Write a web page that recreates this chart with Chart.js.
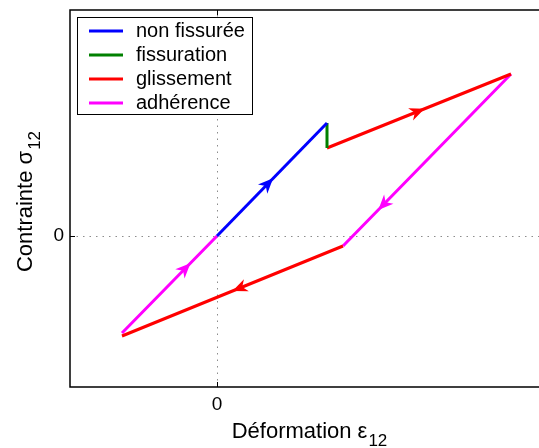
<!DOCTYPE html>
<html>
<head>
<meta charset="utf-8">
<script src="https://cdn.jsdelivr.net/npm/chart.js@4/dist/chart.umd.min.js"></script>
<style>
    body { margin: 0; background: #ffffff; overflow: hidden; }
    #wrap { width: 539px; height: 448px; }
</style>
</head>
<body>
<div id="wrap"><canvas id="cycleChart"></canvas></div>
<script>
// Cycle contrainte / deformation (unites arbitraires)
const seriesNames = ["non fissurée", "fissuration", "glissement", "adhérence"];
const seriesColors = ["#0000ff", "#008000", "#ff0000", "#ff00ff"];

const blueX = [0, 1.10];
const blueY = [0, 1.13];
const greenX = [1.10, 1.10];
const greenY = [1.13, 0.88];
const redX = [1.10, 2.94, null, 1.26, -0.95];
const redY = [0.88, 1.62, null, -0.10, -1.00];
const magentaX = [2.94, 1.26, null, -0.95, 0];
const magentaY = [1.62, -0.10, null, -0.97, 0];

const xTicks = [0];
const yTicks = [0];
const xRange = [-1.47, 3.22];
const yRange = [-1.51, 2.26];

// fleches : [serie, point de depart, position le long du segment]
const arrows = [[0, 0, 0.51], [2, 0, 0.53], [3, 0, 0.79], [2, 3, 0.50], [3, 3, 0.72]];

function toPoints(xs, ys) {
    return xs.map(function (x, i) {
        return { x: x, y: ys[i] };
    });
}

const allX = [blueX, greenX, redX, magentaX];
const allY = [blueY, greenY, redY, magentaY];

const datasets = seriesNames.map(function (name, i) {
    return {
        label: name,
        data: toPoints(allX[i], allY[i]),
        borderColor: seriesColors[i],
        backgroundColor: seriesColors[i],
        borderWidth: 3,
        pointRadius: 0,
        spanGaps: false,
        order: i === 0 ? 0 : 1
    };
});

const FONT = "'Liberation Sans', Arial, sans-serif";

const decorPlugin = {
    id: 'decor',
    beforeDatasetsDraw: function (chart) {
        const ctx = chart.ctx;
        const a = chart.chartArea;
        const xs = chart.scales.x;
        const ys = chart.scales.y;
        ctx.save();
        // grille pointillee
        ctx.strokeStyle = '#8c8c8c';
        ctx.lineWidth = 1;
        ctx.setLineDash([1.5, 5]);
        xTicks.forEach(function (v) {
            const px = Math.round(xs.getPixelForValue(v)) + 0.5;
            ctx.beginPath();
            ctx.moveTo(px, a.bottom);
            ctx.lineTo(px, a.top);
            ctx.stroke();
        });
        yTicks.forEach(function (v) {
            const py = Math.round(ys.getPixelForValue(v)) + 0.5;
            ctx.beginPath();
            ctx.moveTo(a.left, py);
            ctx.lineTo(a.right, py);
            ctx.stroke();
        });
        ctx.restore();
    },
    afterDatasetsDraw: function (chart) {
        const ctx = chart.ctx;
        const a = chart.chartArea;
        const xs = chart.scales.x;
        const ys = chart.scales.y;
        ctx.save();

        // fleches
        arrows.forEach(function (ar) {
            const xsData = allX[ar[0]];
            const ysData = allY[ar[0]];
            const x1 = xs.getPixelForValue(xsData[ar[1]]);
            const y1 = ys.getPixelForValue(ysData[ar[1]]);
            const x2 = xs.getPixelForValue(xsData[ar[1] + 1]);
            const y2 = ys.getPixelForValue(ysData[ar[1] + 1]);
            const len = Math.hypot(x2 - x1, y2 - y1);
            const dx = (x2 - x1) / len;
            const dy = (y2 - y1) / len;
            const tx = x1 + (x2 - x1) * ar[2];
            const ty = y1 + (y2 - y1) * ar[2];
            const L = 15, W = 6.5;
            ctx.fillStyle = seriesColors[ar[0]];
            ctx.beginPath();
            ctx.moveTo(tx, ty);
            ctx.lineTo(tx - L * dx - W * dy, ty - L * dy + W * dx);
            ctx.lineTo(tx - 0.7 * L * dx, ty - 0.7 * L * dy);
            ctx.lineTo(tx - L * dx + W * dy, ty - L * dy - W * dx);
            ctx.closePath();
            ctx.fill();
        });

        // cadre
        ctx.strokeStyle = '#000000';
        ctx.lineWidth = 1.5;
        ctx.setLineDash([]);
        ctx.beginPath();
        ctx.moveTo(a.right + 2, a.top);
        ctx.lineTo(a.left, a.top);
        ctx.lineTo(a.left, a.bottom);
        ctx.lineTo(a.right + 2, a.bottom);
        ctx.stroke();

        // graduations internes
        ctx.lineWidth = 1;
        xTicks.forEach(function (v) {
            const px = Math.round(xs.getPixelForValue(v)) + 0.5;
            ctx.beginPath();
            ctx.moveTo(px, a.bottom); ctx.lineTo(px, a.bottom - 5);
            ctx.moveTo(px, a.top); ctx.lineTo(px, a.top + 5);
            ctx.stroke();
        });
        yTicks.forEach(function (v) {
            const py = Math.round(ys.getPixelForValue(v)) + 0.5;
            ctx.beginPath();
            ctx.moveTo(a.left, py); ctx.lineTo(a.left + 5, py);
            ctx.stroke();
        });

        // etiquettes des graduations
        ctx.fillStyle = '#000000';
        ctx.font = '19px ' + FONT;
        ctx.textBaseline = 'middle';
        ctx.textAlign = 'center';
        xTicks.forEach(function (v) {
            ctx.fillText(String(v), xs.getPixelForValue(v), a.bottom + 18);
        });
        ctx.textAlign = 'right';
        yTicks.forEach(function (v) {
            ctx.fillText(String(v), a.left - 6, ys.getPixelForValue(v));
        });

        // titres des axes
        drawTitle(ctx, 'Déformation ε', '12', 309, 438, 0);
        drawTitle(ctx, 'Contrainte σ', '12', 32, 202, -Math.PI / 2);

        // legende
        const lx = 77.5, ly = 17.5, lw = 175, lh = 97;
        ctx.fillStyle = '#ffffff';
        ctx.fillRect(lx, ly, lw, lh);
        ctx.strokeStyle = '#000000';
        ctx.lineWidth = 1;
        ctx.strokeRect(lx, ly, lw, lh);
        ctx.font = '20px ' + FONT;
        ctx.textAlign = 'left';
        ctx.textBaseline = 'middle';
        seriesNames.forEach(function (name, i) {
            const yy = 31 + i * 24;
            ctx.strokeStyle = seriesColors[i];
            ctx.lineWidth = 3;
            ctx.beginPath();
            ctx.moveTo(89, yy);
            ctx.lineTo(123, yy);
            ctx.stroke();
            ctx.fillStyle = '#000000';
            ctx.fillText(name, 136, yy);
        });
        ctx.restore();
    }
};

function drawTitle(ctx, main, sub, cx, cy, angle) {
    ctx.save();
    ctx.translate(cx, cy);
    ctx.rotate(angle);
    ctx.fillStyle = '#000000';
    ctx.textBaseline = 'alphabetic';
    ctx.textAlign = 'left';
    ctx.font = '22px ' + FONT;
    const w1 = ctx.measureText(main).width;
    ctx.font = '17px ' + FONT;
    const w2 = ctx.measureText(sub).width;
    const start = -(w1 + w2) / 2;
    ctx.font = '22px ' + FONT;
    ctx.fillText(main, start, 0);
    ctx.font = '17px ' + FONT;
    ctx.fillText(sub, start + w1 + 1, 8);
    ctx.restore();
}

const config = {
    type: 'line',
    data: { datasets: datasets },
    options: {
        responsive: true,
        maintainAspectRatio: false,
        animation: false,
        layout: {
            padding: { left: 70, top: 10, right: 0, bottom: 61 }
        },
        scales: {
            x: { type: 'linear', min: xRange[0], max: xRange[1], display: false },
            y: { type: 'linear', min: yRange[0], max: yRange[1], display: false }
        },
        plugins: {
            legend: { display: false },
            tooltip: { enabled: false }
        }
    },
    plugins: [decorPlugin]
};

const cycleChart = new Chart(
    document.getElementById('cycleChart'),
    config
);
</script>
</body>
</html>
